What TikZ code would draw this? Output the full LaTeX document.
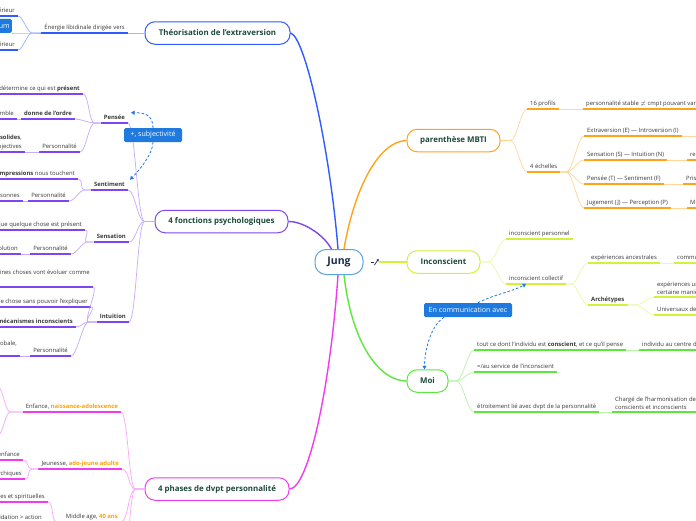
\documentclass[tikz,border=0pt]{standalone}
\usepackage{fontspec}
\setmainfont{Open Sans}
\usetikzlibrary{arrows.meta}

\definecolor{jungblue}{HTML}{5BA4DD}
\definecolor{jungnavy}{HTML}{1B2A4A}
\definecolor{thblue}{HTML}{2F5BFF}
\definecolor{fpurple}{HTML}{7E46F0}
\definecolor{phmag}{HTML}{F03CF0}
\definecolor{mborange}{HTML}{FFA31A}
\definecolor{icyellow}{HTML}{D2F23A}
\definecolor{mogreen}{HTML}{5CE83A}
\definecolor{titlegreen}{HTML}{1D4A3A}
\definecolor{callblue}{HTML}{1F7AE0}
\definecolor{txt}{HTML}{3A3A3A}
\definecolor{hlorange}{HTML}{FFA000}

\tikzset{
  jung/.style={draw=jungblue, line width=1pt, rounded corners=11pt, fill=white,
    minimum width=48pt, minimum height=25pt, font=\fontsize{10.5}{12}\selectfont\bfseries, text=jungnavy},
  topic/.style={draw=#1, line width=1pt, rounded corners=10pt, fill=white,
    minimum height=22.5pt, font=\fontsize{7.9}{9}\selectfont\bfseries, text=titlegreen},
  lbl/.style={font=\fontsize{5.9}{8.6}\selectfont, text=txt, inner xsep=3pt, inner ysep=2pt, text depth=1.4pt},
  ul/.style={append after command={(\tikzlastnode.south west) edge[draw=#1, line width=1.1pt] (\tikzlastnode.south east)}},
  lft/.style={lbl, anchor=south east, ul=#1},
  rgt/.style={lbl, anchor=south west, ul=#1},
  trunk/.style={draw=#1, line width=1.4pt},
  cn/.style={draw=#1!45, line width=.7pt},
  call/.style={fill=callblue, text=white, rounded corners=1.5pt, inner sep=2pt,
    minimum height=14pt, font=\fontsize{7.1}{8}\selectfont},
  linkarrow/.style={draw=callblue, line width=.8pt, dash pattern=on 2.5pt off 2pt,
    -{Triangle[length=3.5pt,width=4pt]}}
}

\begin{document}
\begin{tikzpicture}[x=1pt,y=-1pt]
\useasboundingbox (0,0) rectangle (696,520);
\clip (0,0) rectangle (696,520);
\fill[white] (0,0) rectangle (696,520);

% centre
\node[jung] (jung) at (339,262) {Jung};
\node[inner sep=0pt, minimum width=7pt, minimum height=6pt] (lnk) at (375,262) {};
\draw[jungnavy, line width=.6pt] (lnk.west) -- ++(2.5,0);
\draw[jungnavy, line width=.7pt, -{Stealth[length=2.6pt,width=2.6pt]}] ([xshift=3pt]lnk.south west) -- (lnk.north east);

% main topics
\node[topic=thblue, minimum width=145pt] (th) at (217.5,33) {Théorisation de l'extraversion};
\node[topic=fpurple, minimum width=133pt] (fp) at (221.5,221.5) {4 fonctions psychologiques};
\node[topic=phmag, minimum width=144pt] (ph) at (217,489) {4 phases de dvpt personnalité};
\node[topic=mborange, minimum width=93pt] (mb) at (453.5,140.5) {parenthèse MBTI};
\node[topic=icyellow, minimum width=73pt] (ic) at (443.5,262) {Inconscient};
\node[topic=mogreen, minimum width=41pt] (mo) at (427.5,381) {Moi};

\draw[trunk=thblue] ([xshift=-1pt]jung.north) .. controls (330,150) and (305,36) .. (th.east);
\draw[trunk=mborange] ([xshift=5pt]jung.north) .. controls (355,185) and (380,141) .. (mb.west);
\draw[trunk=fpurple] (jung.120) .. controls (322,232) and (300,221) .. (fp.east);
\draw[trunk=phmag] ([xshift=-1pt]jung.south) .. controls (330,390) and (308,489) .. (ph.east);
\draw[trunk=mogreen] ([xshift=5pt]jung.south) .. controls (352,345) and (380,381) .. (mo.west);
\draw[trunk=icyellow] (lnk.east) -- (ic.west);

% extraversion
\node[lft=thblue] (en) at (128,33) {Énergie libidinale dirigée vers};
\node[lft=thblue] (ext) at (18,16) {l'extérieur};
\node[call, anchor=south east] (cm) at (12,33) {Continuum};
\node[lft=thblue] (int) at (18,50) {l'intérieur};
\draw[cn=thblue] (th.west) -- (en.south east);
\foreach \c in {ext,cm,int}
  \draw[cn=thblue] (en.south west) -- ++(-9,0) .. controls +(-5,0) and +(5,0) .. (\c.south east);

% fonctions
\node[lft=fpurple] (pe) at (128,123) {\textbf{Pensée}};
\node[lft=fpurple] (se) at (128,190) {\textbf{Sentiment}};
\node[lft=fpurple] (sn) at (129,242) {\textbf{Sensation}};
\node[lft=fpurple] (iu) at (129,322) {\textbf{Intuition}};
\foreach \c in {pe,se,sn,iu}
  \draw[cn=fpurple] (fp.west) -- ++(-10,0) .. controls +(-7,0) and +(7,0) .. (\c.south east);

\node[lft=fpurple] (pe1) at (83,94) {détermine ce qui est \textbf{présent}};
\node[lft=fpurple] (pe2) at (75,119) {\textbf{donne de l'ordre}};
\node[lft=fpurple] (pe2a) at (17,119) {à l'ensemble};
\node[lft=fpurple] (pe3) at (80,152) {Personnalité};
\node[lft=fpurple, align=right, text depth=] (pe3a) at (25,152) {critères \textbf{solides},\\ objectives};
\foreach \c in {pe1,pe2,pe3}
  \draw[cn=fpurple] (pe.south west) -- ++(-6,0) .. controls +(-6,0) and +(6,0) .. (\c.south east);
\draw[cn=fpurple] (pe2.south west) -- (pe2a.south east);
\draw[cn=fpurple] (pe3.south west) -- (pe3a.south east);

\node[lft=fpurple] (se1) at (78,179) {les \textbf{impressions} nous touchent};
\node[lft=fpurple] (se2) at (69,201) {Personnalité};
\node[lft=fpurple] (se2a) at (23,201) {personnes};
\foreach \c in {se1,se2}
  \draw[cn=fpurple] (se.south west) -- ++(-6,0) .. controls +(-6,0) and +(6,0) .. (\c.south east);
\draw[cn=fpurple] (se2.south west) -- (se2a.south east);

\node[lft=fpurple] (sn1) at (85,230) {indique que quelque chose est présent};
\node[lft=fpurple] (sn2) at (71,254) {Personnalité};
\node[lft=fpurple] (sn2a) at (21,254) {évolution};
\foreach \c in {sn1,sn2}
  \draw[cn=fpurple] (sn.south west) -- ++(-6,0) .. controls +(-6,0) and +(6,0) .. (\c.south east);
\draw[cn=fpurple] (sn2.south west) -- (sn2a.south east);

\node[lft=fpurple, align=left, text depth=] (iu1) at (93,287) {Prévoit comment certaines choses vont évoluer comme\\ prévu};
\node[lft=fpurple] (iu2) at (91,307) {pressent quelque chose sans pouvoir l'expliquer};
\node[lft=fpurple] (iu3) at (76,327) {via des \textbf{mécanismes inconscients}};
\node[lft=fpurple] (iu4) at (71,356) {Personnalité};
\node[lft=fpurple, align=left, text depth=] (iu4a) at (20,356) {Perception globale,\\ intuitive};
\foreach \c in {iu1,iu2,iu3,iu4}
  \draw[cn=fpurple] (iu.south west) -- ++(-8,0) .. controls +(-6,0) and +(6,0) .. (\c.south east);
\draw[cn=fpurple] (iu4.south west) -- (iu4a.south east);

\node[call, minimum width=58pt] (sub) at (153,135) {+, subjectivité};
\draw[linkarrow] (sub.north) .. controls +(0,-14) and +(12,0) .. ([xshift=3pt]pe.north east);
\draw[linkarrow] (sub.south) .. controls +(0,12) and +(8,-8) .. ([xshift=2pt]se.north east);

% phases
\node[lft=phmag] (ph1) at (121,412) {Enfance, \textcolor{hlorange}{\textbf{naissance-adolescence}}};
\node[lft=phmag] (ph2) at (122,469) {Jeunesse, \textcolor{hlorange}{\textbf{ado-jeune adulte}}};
\node[lft=phmag] (ph3) at (121,522) {Middle age, \textcolor{hlorange}{\textbf{40 ans}}};
\coordinate (ph4) at (121,590);
\foreach \c in {ph1,ph2,ph3,ph4}
  \draw[cn=phmag] (ph.west) -- ++(-9,0) .. controls +(-7,0) and +(7,0) .. (\c.south east);
\coordinate (ph1a) at (-3,386);
\coordinate (ph1b) at (-3,436);
\foreach \c in {ph1a,ph1b}
  \draw[cn=phmag] (ph1.south west) -- ++(-12,0) .. controls +(-6,0) and +(6,0) .. (\c);
\node[lft=phmag] (ph2a) at (23,460) {Détachement de l'enfance};
\node[lft=phmag] (ph2b) at (25,479) {Ressources psychiques};
\foreach \c in {ph2a,ph2b}
  \draw[cn=phmag] (ph2.south west) -- ++(-6,0) .. controls +(-6,0) and +(6,0) .. (\c.south east);
\node[lft=phmag] (ph3a) at (48,502) {Valeurs culturelles et spirituelles};
\node[lft=phmag] (ph3b) at (45,523) {Consolidation > action};
\foreach \c in {ph3a,ph3b}
  \draw[cn=phmag] (ph3.south west) -- ++(-6,0) .. controls +(-6,0) and +(6,0) .. (\c.south east);

% MBTI
\node[rgt=mborange] (mb1) at (527,109) {16 profils};
\node[rgt=mborange] (mb2) at (527,172) {4 échelles};
\foreach \c in {mb1,mb2}
  \draw[cn=mborange] (mb.east) -- ++(10,0) .. controls +(6,0) and +(-6,0) .. (\c.south west);
\node[rgt=mborange] (mb1a) at (583,109) {personnalité stable $\neq$ cmpt pouvant varier};
\draw[cn=mborange] (mb1.south east) -- (mb1a.south west);
\node[rgt=mborange] (mb2a) at (584,136) {Extraversion (E) — Introversion (I)};
\node[rgt=mborange] (mb2b) at (584,160) {Sensation (S) — Intuition (N)};
\node[rgt=mborange] (mb2c) at (584,184) {Pensée (T) — Sentiment (F)};
\node[rgt=mborange] (mb2d) at (584,208) {Jugement (J) — Perception (P)};
\foreach \c in {mb2a,mb2b,mb2c,mb2d}
  \draw[cn=mborange] (mb2.south east) -- ++(6,0) .. controls +(6,0) and +(-6,0) .. (\c.south west);
\coordinate (mb2ax) at (720,136);
\node[rgt=mborange] (mb2bx) at (687,160) {recueil d'information};
\node[rgt=mborange] (mb2cx) at (683,184) {Prise de décision};
\node[rgt=mborange] (mb2dx) at (687,208) {Mode de vie};
\draw[cn=mborange] (mb2a.south east) -- (mb2ax);
\draw[cn=mborange] (mb2b.south east) -- (mb2bx.south west);
\draw[cn=mborange] (mb2c.south east) -- (mb2cx.south west);
\draw[cn=mborange] (mb2d.south east) -- (mb2dx.south west);

% inconscient
\node[rgt=icyellow] (ic1) at (506,239) {inconscient personnel};
\node[rgt=icyellow] (ic2) at (506,284) {inconscient collectif};
\foreach \c in {ic1,ic2}
  \draw[cn=icyellow] (ic.east) -- ++(8,0) .. controls +(6,0) and +(-6,0) .. (\c.south west);
\node[rgt=icyellow] (ic2a) at (588,263) {expériences ancestrales};
\node[rgt=icyellow] (ic2b) at (588,305) {\textbf{Archétypes}};
\foreach \c in {ic2a,ic2b}
  \draw[cn=icyellow] (ic2.south east) -- ++(5,0) .. controls +(6,0) and +(-6,0) .. (\c.south west);
\node[rgt=icyellow] (ic2a1) at (674,263) {communes à tous};
\draw[cn=icyellow] (ic2a.south east) -- (ic2a1.south west);
\node[rgt=icyellow, align=left, text depth=] (ic2b1) at (654,297) {expériences universelles vécues d'une\\ certaine manière};
\node[rgt=icyellow] (ic2b2) at (654,315) {Universaux de l'imaginaire};
\foreach \c in {ic2b1,ic2b2}
  \draw[cn=icyellow] (ic2b.south east) -- ++(8,0) .. controls +(6,0) and +(-6,0) .. (\c.south west);

% moi
\node[rgt=mogreen] (mo1) at (474,350) {tout ce dont l'individu est \textbf{conscient}, et ce qu'il pense};
\node[rgt=mogreen] (mo2) at (474,372) {=/au service de l'inconscient};
\node[rgt=mogreen] (mo3) at (474,412) {étroitement lié avec dvpt de la personnalité};
\foreach \c in {mo1,mo2,mo3}
  \draw[cn=mogreen] (mo.east) -- ++(8,0) .. controls +(6,0) and +(-6,0) .. (\c.south west);
\node[rgt=mogreen] (mo1a) at (639,350) {individu au centre de sa conscience};
\draw[cn=mogreen] (mo1.south east) -- (mo1a.south west);
\node[rgt=mogreen, align=left, text depth=] (mo3a) at (612,412) {Chargé de l'harmonisation des contenus\\ conscients et inconscients};
\draw[cn=mogreen] (mo3.south east) -- (mo3a.south west);

\node[call, minimum width=88pt] (com) at (468,310) {En communication avec};
\draw[linkarrow] ([xshift=10pt]com.north) .. controls +(15,-8) and +(-15,8) .. ([xshift=-10pt]ic2.south);
\draw[linkarrow] ([xshift=-24pt]com.south) .. controls +(-15,10) and +(0,-15) .. ([xshift=-3pt]mo.north);
\end{tikzpicture}
\end{document}
